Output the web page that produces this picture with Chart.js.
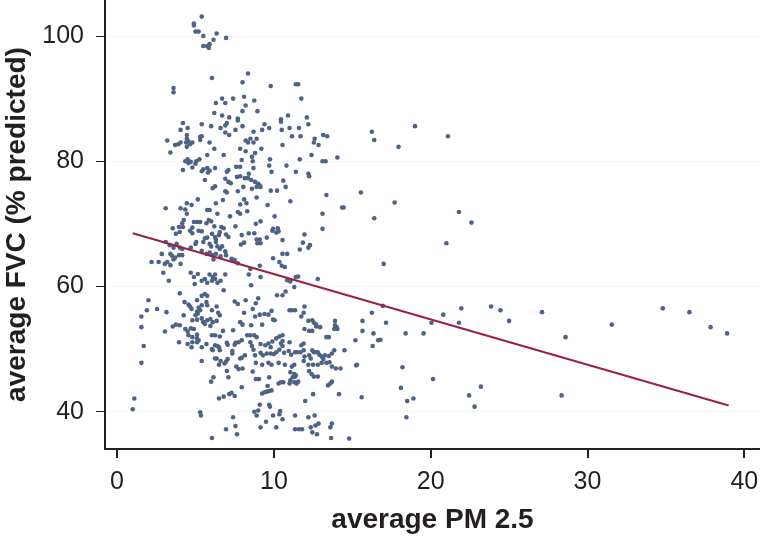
<!DOCTYPE html>
<html>
<head>
<meta charset="utf-8">
<script src="https://cdn.jsdelivr.net/npm/chart.js@4.4.1/dist/chart.umd.min.js"></script>
<style>
  html, body { margin: 0; padding: 0; background: #fff; }
  #wrap { width: 760px; height: 537px; }
</style>
</head>
<body>
<div id="wrap"><canvas id="scatter-chart" width="760" height="537"></canvas></div>
<script>
// ─── Data: [average PM 2.5, average FVC (% predicted)] ───
const topGroup = [
  [5.4,103.1],[4.9,102.0],[4.9,101.7],[5.0,100.7],[5.2,100.7],[5.5,100.0],[6.35,100.4],[6.95,99.7],
  [6.15,99.4],[5.9,98.7],[5.75,98.4],[5.85,98.1],[5.5,98.4],[6.05,93.3],[3.6,91.7],[3.6,91.0],
  [6.7,90.0],[7.4,90.0],[6.3,89.3],[6.9,89.3],[6.2,87.7],[6.7,87.3],[7.15,87.0],[7.7,86.8],
  [8.35,94.0],[8.0,92.6],[9.8,92.0],[11.4,92.3],[11.55,92.3],[8.1,90.3],[8.75,89.7],[11.75,90.0],
  [8.2,88.9],[8.0,88.0],[8.95,88.0],[10.9,87.3],[12.1,87.0],[10.45,86.7]
];

const upperLeft = [
  [4.2,86.1],[4.5,85.3],[4.05,85.0],[5.4,85.9],[6.0,85.6],[6.6,85.3],[6.9,85.7],[7.0,86.1],[6.9,84.6],
  [7.15,84.2],[7.55,85.0],[7.7,86.5],[3.2,83.3],[3.7,82.6],[3.9,82.7],[4.05,83.0],[4.45,84.2],[4.45,83.6],
  [4.55,83.2],[4.4,83.0],[4.8,83.0],[4.65,82.7],[5.3,83.9],[5.4,84.0],[5.3,83.4],[5.9,83.0],[4.45,82.3],
  [6.2,82.0],[3.4,81.4],[5.75,81.0],[6.8,81.0],[4.35,80.0],[4.5,80.3],[4.55,79.7],[4.7,79.9],[4.8,79.0],
  [5.05,80.0],[5.25,80.3],[5.0,79.6],[4.2,78.6],[5.4,78.4],[5.5,78.7],[5.75,78.9],[5.9,78.5],[5.8,78.2],
  [6.25,78.9],[5.6,77.0],[7.0,78.3],[7.1,78.6],[7.6,79.1],[6.9,77.2],[7.1,76.7],[7.25,76.5],[7.65,77.5],
  [6.1,75.7],[6.25,76.0],[6.9,75.2],[7.0,75.0],[7.7,75.2],[6.75,73.8],[5.15,73.9],[4.45,73.3],[4.75,73.0],
  [6.3,73.3],[3.1,72.5],[4.05,72.5],[4.35,72.3],[5.75,72.2],[5.9,72.2],[4.45,71.6],[6.4,71.6],[7.2,71.2],
  [7.7,71.9],[4.25,70.6],[4.15,70.1],[4.9,70.3],[5.1,70.3],[5.3,70.3],[5.85,70.6],[6.0,70.4],[5.7,70.1],
  [3.55,69.3],[3.95,69.5],[4.2,69.5],[4.8,69.4],[6.2,69.6],[6.65,69.5],[6.8,69.3],[7.55,69.6]
];

const upperRight = [
  [8.0,85.6],[8.7,84.7],[9.4,85.9],[9.7,85.3],[10.45,86.3],[10.5,85.0],[11.0,85.3],[11.15,84.0],[11.6,85.3],
  [11.7,84.0],[12.2,85.9],[9.25,85.0],[8.2,83.3],[8.35,83.0],[8.5,83.6],[8.7,83.0],[8.9,83.6],[7.85,82.0],
  [8.2,81.6],[8.8,81.3],[9.2,82.0],[10.55,82.6],[12.6,83.6],[12.55,83.0],[12.85,82.6],[13.15,84.2],[13.4,84.0],
  [8.6,80.7],[8.65,80.0],[7.95,80.2],[9.75,80.3],[12.4,81.0],[11.65,80.3],[13.1,80.0],[13.3,80.0],[14.05,80.6],
  [8.7,78.9],[7.85,79.1],[9.7,79.3],[10.8,79.3],[8.4,78.0],[7.85,77.6],[8.15,77.3],[8.35,77.3],[8.55,77.0],
  [8.8,76.7],[9.0,76.4],[9.1,76.1],[8.9,75.9],[9.15,75.9],[8.6,75.6],[9.85,78.3],[11.4,78.3],[12.2,78.0],
  [12.25,77.6],[10.6,76.9],[10.75,75.9],[8.05,75.9],[9.8,75.3],[10.2,75.3],[8.9,74.2],[8.1,73.9],[8.25,73.3],
  [7.85,73.1],[11.05,73.6],[13.35,74.6],[9.6,73.0],[14.45,72.6],[14.35,72.6],[8.3,72.0],[7.85,71.6],[10.05,71.2],
  [13.1,71.6],[8.85,70.0],[9.15,70.4],[9.95,69.2],[10.25,69.3],[13.1,69.2],
  [16.25,84.7],[16.4,83.4],[15.55,75.0],[16.4,70.9],[19.0,85.6],[21.1,84.0],[17.95,82.3],[17.7,73.4],
  [21.8,71.9],[22.6,70.2],[21.0,66.9],[17.0,63.6]
];

const middleLeft = [
  [3.75,68.4],[4.0,68.7],[4.65,68.9],[4.8,68.5],[5.2,68.9],[5.4,68.8],[5.6,67.7],[5.75,67.8],[6.05,68.4],
  [6.25,67.9],[6.5,68.2],[6.3,67.5],[6.55,68.7],[6.95,68.3],[7.1,67.9],[5.05,67.1],[5.0,66.8],[4.7,66.2],
  [5.5,67.1],[5.9,66.8],[6.0,66.4],[6.3,67.1],[6.4,66.4],[6.7,66.4],[6.55,66.0],[6.9,65.6],[6.95,65.0],
  [7.3,64.4],[3.1,67.1],[3.35,66.6],[3.6,66.2],[3.8,66.8],[4.0,66.2],[4.15,66.0],[2.85,65.2],[3.4,65.2],
  [3.5,64.9],[3.7,64.6],[3.95,65.0],[4.15,65.0],[3.6,64.3],[3.2,63.9],[2.2,63.9],[2.65,63.9],[3.05,63.6],
  [3.4,63.4],[4.05,63.6],[5.4,65.7],[5.7,65.2],[5.9,65.4],[6.05,65.0],[6.15,64.3],[6.3,65.2],[6.6,64.8],
  [7.5,64.2],[7.7,63.7],[2.95,62.2],[3.3,60.9],[4.7,62.2],[4.9,61.5],[5.15,62.0],[4.95,60.4],[5.4,60.9],
  [5.6,61.2],[5.75,60.6],[5.9,61.9],[6.1,61.5],[6.25,61.9],[6.05,60.9],[6.25,61.2],[6.4,60.6],[6.6,60.9],
  [6.9,61.9],[6.8,59.4],[4.0,58.9],[2.0,57.8],[4.3,57.5],[4.55,57.1],[5.1,57.8],[5.4,58.5],[5.6,58.8],
  [5.75,58.5],[5.7,57.5],[4.65,56.8],[4.75,56.4],[5.2,56.6],[5.3,56.2],[5.1,56.0],[5.15,55.7],[5.0,55.4],
  [5.4,57.0],[5.75,57.0],[6.05,56.2],[6.35,56.8],[6.45,55.8],[6.55,55.4],[7.5,57.6],[7.7,57.2],[1.9,56.2],
  [2.55,56.4],[3.15,55.9],[1.55,55.2],[1.55,53.5],[4.25,55.4],[4.8,54.6],[5.1,54.7],[5.4,54.9],[5.5,54.3],
  [5.75,54.6],[5.6,54.0],[5.95,54.8],[6.1,54.3],[5.95,53.7],[6.35,54.5],[3.55,53.6],[3.75,53.9],[4.0,53.8],
  [4.35,53.2],[4.5,52.8],[4.7,53.3],[4.9,53.2],[3.05,52.8],[4.55,52.2],[4.8,51.9],[5.1,52.3],[5.1,51.7],
  [6.05,52.2],[6.25,52.2],[6.55,52.0],[6.75,52.9],[7.4,53.0]
];

const middleRight = [
  [7.95,68.2],[7.9,66.7],[8.1,67.0],[8.4,68.5],[8.75,68.5],[8.9,67.5],[9.1,67.5],[8.95,66.9],[9.15,66.9],
  [9.55,67.8],[9.9,68.9],[10.15,68.6],[10.3,68.8],[10.55,67.4],[11.95,68.3],[11.85,67.0],[11.65,65.9],
  [12.2,66.2],[12.3,66.6],[10.55,65.2],[10.85,65.2],[9.95,64.5],[10.35,63.9],[10.5,63.3],[10.7,63.1],
  [9.1,63.3],[8.5,62.8],[8.4,61.9],[9.15,61.5],[10.85,61.0],[11.05,60.8],[11.4,61.5],[11.55,61.6],[11.3,59.9],
  [12.8,61.2],[8.55,60.2],[8.2,57.8],[8.85,57.3],[9.0,58.1],[8.65,56.4],[8.1,55.8],[8.8,55.2],[9.1,55.5],
  [10.75,59.2],[10.55,58.6],[10.2,58.6],[9.85,56.1],[9.65,55.5],[10.05,54.6],[9.95,54.7],[9.4,55.6],
  [11.0,56.2],[11.15,56.2],[11.35,56.2],[11.95,56.8],[11.9,55.8],[11.75,55.2],[12.2,54.5],[12.45,54.6],
  [12.55,54.2],[12.7,53.6],[12.95,53.5],[11.95,53.2],[12.25,52.9],[12.45,52.9],[12.7,53.9],[13.9,54.5],
  [13.85,53.2],[14.0,53.5],[14.05,53.2],[13.9,53.8],[8.0,53.9],[7.85,54.3],[9.25,53.9],[8.55,53.8],
  [8.3,52.2],[8.5,52.2],[8.75,52.2],[8.9,51.9],[10.15,51.7],[10.35,52.0],[10.55,52.2],[13.35,51.9],[13.5,51.9],
  [16.25,55.8],[15.65,54.5],[15.65,52.9],[16.35,52.5],[16.65,51.4],[16.3,50.5],[15.2,51.4],[16.95,56.9],
  [17.15,54.2],[16.8,51.5],[18.4,52.5],[19.55,52.5],[20.05,54.2],[20.8,55.5],[21.95,56.5],[21.8,54.2],
  [23.85,56.8],[24.45,56.2],[25.0,54.5],[27.1,55.9],[28.6,51.9],[31.55,53.9],[34.8,56.5],[36.5,55.9],
  [37.85,53.5],[38.9,52.5]
];

const lowerLeft = [
  [1.7,50.5],[1.55,47.8],[1.1,42.1],[1.0,40.4],[5.3,39.9],[5.35,39.4],[3.95,51.1],[4.5,50.8],[4.75,50.3],
  [4.8,51.1],[5.1,51.1],[5.2,51.4],[5.4,50.3],[5.7,50.8],[5.4,48.1],[6.05,50.0],[6.25,50.6],[6.4,50.5],
  [6.55,49.8],[6.5,50.3],[6.1,49.8],[7.0,51.0],[7.05,50.7],[7.35,49.7],[7.35,49.3],[7.55,51.0],[7.5,50.7],
  [7.75,51.1],[6.25,48.5],[6.35,48.5],[6.5,47.5],[6.6,48.1],[6.85,47.7],[6.95,48.0],[7.05,48.4],[7.6,47.2],
  [7.75,46.8],[7.85,48.5],[7.0,46.5],[7.1,45.5],[6.15,45.5],[6.0,44.8],[6.5,42.1],[6.8,42.4],[7.15,42.8],
  [7.3,43.0],[7.5,42.5],[7.4,39.1],[7.55,37.7],[7.65,36.4],[6.95,37.2],[6.05,35.8]
];

const lowerRight = [
  [7.95,51.4],[8.5,51.1],[8.6,50.5],[8.7,49.9],[9.15,50.8],[9.45,50.6],[9.65,50.9],[9.8,50.3],[9.9,51.2],
  [10.45,50.9],[10.55,50.5],[10.55,51.3],[11.0,51.1],[11.75,50.6],[11.9,50.9],
  [7.95,48.6],[8.15,49.0],[8.8,49.0],[9.15,49.4],[9.3,49.0],[9.55,49.3],[9.8,49.3],[10.0,49.2],[10.15,49.5],
  [10.35,49.9],[10.65,49.4],[10.95,49.7],[11.1,49.1],[11.35,49.5],[11.5,49.5],[11.7,49.5],[11.9,49.8],
  [11.95,48.8],[12.25,49.0],[12.35,48.5],[12.45,49.8],[12.55,49.5],[12.7,49.5],[12.8,49.5],[12.9,49.1],
  [13.05,48.8],[13.15,48.4],[13.25,49.0],[13.5,48.9],[13.55,47.9],[13.7,49.3],[13.85,49.8],[14.5,49.8],
  [8.85,47.8],[9.25,47.5],[9.65,47.8],[9.85,47.5],[10.3,47.8],[10.7,47.5],[11.15,47.2],[11.3,47.5],[11.9,48.1],
  [12.2,47.5],[12.5,47.5],[12.8,47.5],[13.05,47.8],[13.35,47.8],[13.7,47.2],[13.95,46.9],[14.25,46.9],[15.3,47.5],
  [8.0,46.9],[8.65,46.4],[12.25,46.5],[12.4,46.0],[12.55,45.6],[12.8,45.6],[11.05,46.3],[11.3,46.0],[11.35,45.6],
  [8.85,45.2],[9.05,45.2],[9.7,45.5],[10.3,44.5],[10.45,44.7],[10.6,44.7],[11.0,44.5],[11.05,45.0],[11.2,45.5],
  [11.3,44.7],[11.4,45.8],[11.45,44.5],[11.55,44.8],[7.95,43.9],
  [9.25,42.9],[9.4,43.1],[9.55,43.2],[9.7,43.3],[9.85,43.4],[9.6,44.1],[13.45,44.2],[13.7,44.8],[13.6,44.5],
  [12.5,42.8],[14.15,42.8],[12.0,41.7],[9.1,41.1],[9.7,41.1],[9.75,40.8],[8.75,40.0],[9.0,40.2],[8.9,39.4],
  [9.5,38.4],[9.15,37.5],[9.95,39.4],[10.4,40.1],[10.35,39.6],[10.55,38.8],[11.35,39.4],[10.15,37.5],[12.2,39.1],
  [12.6,39.4],[12.85,38.1],[12.65,37.8],[12.35,37.5],[12.45,36.7],[12.75,36.4],[13.7,38.1],[13.6,37.5],
  [11.35,37.2],[11.6,37.2],[11.8,37.2],[13.65,35.8],[14.8,35.7],
  [15.25,47.4],[15.6,42.3],
  [18.2,47.1],[18.1,43.8],[18.5,41.7],[18.9,42.1],[18.45,39.1],[20.15,45.2],[22.45,42.6],[23.2,44.0],
  [22.8,40.8],[28.35,42.6]
];

// fitted regression line end points
const fitPm = [1, 39];
const fitFvc = [68.5, 41.0];

const xTicks = [0, 10, 20, 30, 40];
const yTicks = [40, 60, 80, 100];

const FONT = "'Liberation Sans', Arial, Helvetica, sans-serif";
const INK = '#231f20';

const allPoints = [...topGroup, ...upperLeft, ...upperRight, ...middleLeft, ...middleRight, ...lowerLeft, ...lowerRight]
  .map(([x, y]) => ({ x, y }));
const fitLine = fitPm.map((x, i) => ({ x, y: fitFvc[i] }));

// no extra room for edge labels: the plot runs to the canvas top and right edge
function noEdgePadding(s) {
  s.paddingTop = 0;
  s.paddingBottom = 0;
  s.paddingLeft = 0;
  s.paddingRight = 0;
}

new Chart(document.getElementById('scatter-chart'), {
  type: 'scatter',
  data: {
    datasets: [
      {
        type: 'line',
        label: 'fit',
        data: fitLine,
        borderColor: '#9c1f45',
        borderWidth: 2,
        pointRadius: 0,
        fill: false,
        order: 0
      },
      {
        label: 'subjects',
        data: allPoints,
        backgroundColor: '#4d6385',
        borderWidth: 0,
        pointRadius: 2.3,
        order: 1
      }
    ]
  },
  options: {
    responsive: false,
    animation: false,
    events: [],
    layout: { padding: 0, autoPadding: false },
    plugins: { legend: { display: false }, tooltip: { enabled: false } },
    scales: {
      x: {
        type: 'linear',
        min: -0.77,
        max: 41.0,
        afterBuildTicks: s => { s.ticks = xTicks.map(v => ({ value: v })); },
        afterFit: s => { s.height = 88; noEdgePadding(s); },
        border: { color: INK, width: 2 },
        grid: { drawOnChartArea: false, tickColor: INK, tickLength: 9, lineWidth: 2 },
        ticks: { color: INK, font: { family: FONT, size: 25 }, padding: 9, maxRotation: 0 },
        title: {
          display: true,
          text: 'average PM 2.5',
          color: INK,
          font: { family: FONT, size: 28, weight: 'bold' },
          padding: { top: 0, bottom: 0 }
        }
      },
      y: {
        type: 'linear',
        min: 34.04,
        max: 105.75,
        afterBuildTicks: s => { s.ticks = yTicks.map(v => ({ value: v })); },
        afterFit: s => { s.width = 105; noEdgePadding(s); },
        border: { color: INK, width: 2 },
        grid: { color: 'rgba(0,0,0,0.035)', lineWidth: 1, tickColor: INK, tickLength: 9 },
        ticks: { color: INK, font: { family: FONT, size: 25 }, padding: 12 },
        title: {
          display: true,
          text: 'average FVC (% predicted)',
          color: INK,
          font: { family: FONT, size: 28, weight: 'bold' },
          padding: { top: 0, bottom: 0 }
        }
      }
    }
  }
});
</script>
</body>
</html>
